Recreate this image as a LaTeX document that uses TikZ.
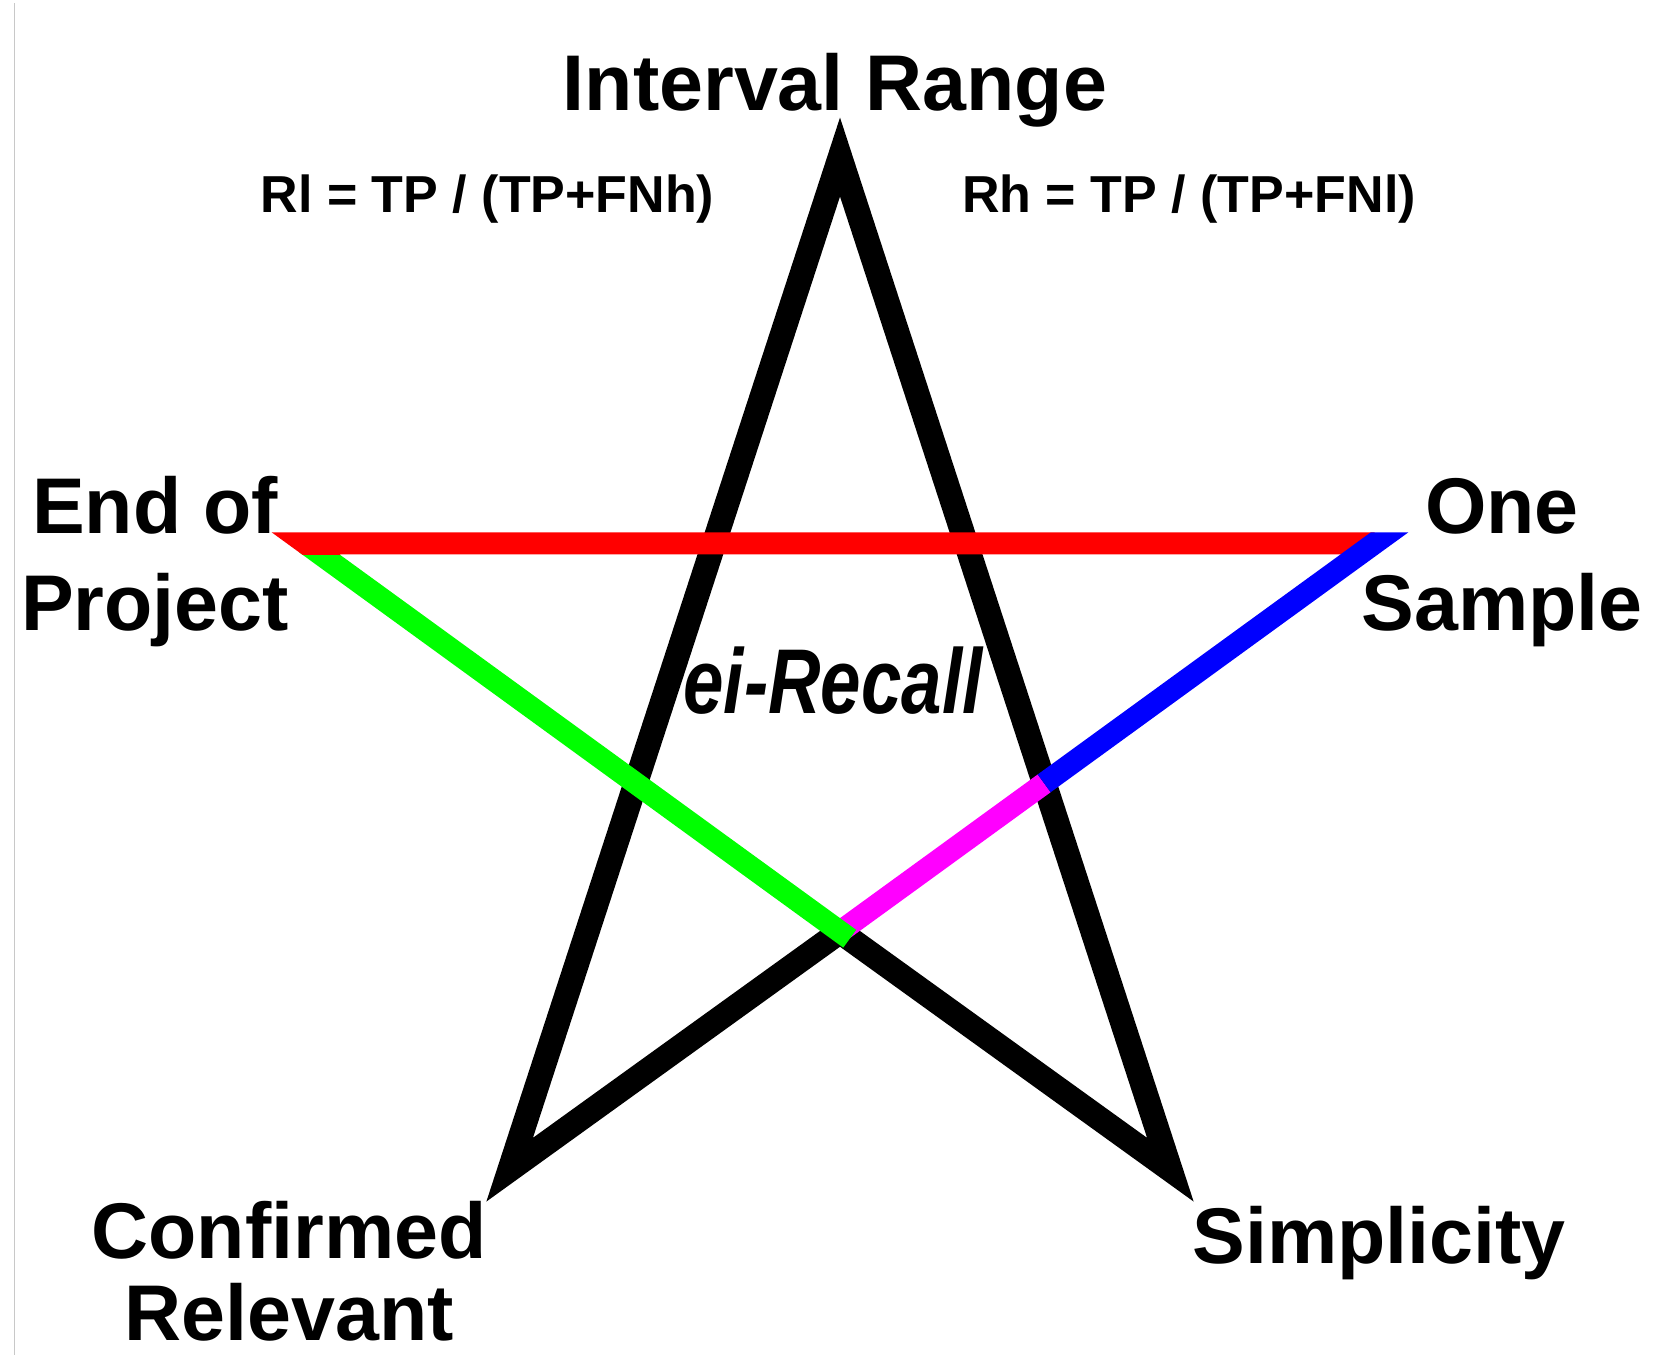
\documentclass[tikz,border=0pt]{standalone}
\usepackage{fontspec}
\setmainfont{Liberation Sans}
\usepackage{graphicx}
\usetikzlibrary{calc}
\definecolor{starred}{RGB}{255,0,0}
\definecolor{stargreen}{RGB}{0,255,0}
\definecolor{starblue}{RGB}{0,0,255}
\definecolor{starmag}{RGB}{255,0,255}
\definecolor{framegray}{RGB}{200,200,200}
\begin{document}
\begin{tikzpicture}[x=1pt,y=1pt,
  starline/.style={line width=22pt, line cap=butt, line join=miter},
  blackline/.style={line width=24.5pt, line cap=butt, line join=miter},
  bigtext/.style={font=\fontsize{79}{79}\selectfont\bfseries, inner sep=0pt, anchor=base},
  formula/.style={font=\fontsize{52}{52}\selectfont\bfseries, inner sep=0pt, anchor=base}]
\useasboundingbox (0,0) rectangle (1654,-1355);
\fill[white] (0,0) rectangle (1654,-1355);
\draw[framegray, line width=1.5pt] (14.5,-3) -- (14.5,-1355);
% pentagram vertices (regular, centre (840,-717), r = 562)
\coordinate (T)  at (840,-157);
\coordinate (L)  at (305.51,-543.33);
\coordinate (R)  at (1374.49,-543.33);
\coordinate (BL) at (509.66,-1169.67);
\coordinate (BR) at (1170.34,-1169.67);
\coordinate (X)  at (840,-931.67);
\coordinate (Xm) at (1044.16,-783.34);
% black star
\draw[blackline, black] (X) -- (BL) -- (T) -- (BR) -- (X);
% magenta part
\draw[starline, starmag] (X) -- (Xm);
% green part
\draw[starline, stargreen, shorten >=-12pt] (L) -- (X);
% red line, its tip at L mitred
\begin{scope}
  \clip (0,-554.33) rectangle (1654,0);
  \draw[starline, starred] (X) -- (L) -- (R);
\end{scope}
% blue part, its tip at R mitred
\begin{scope}
  \clip (875.9,-892.0) -- (1529.8,-416.8) -- (1654,-416.8) -- (1654,-1355) -- (875.9,-1355) -- cycle;
  \draw[starline, starblue] (Xm) -- (R) -- (L);
\end{scope}
% texts
\node[bigtext] (title) at (835,-110) {Interval Range};
\node[formula] (rl) at (487.5,-212) {Rl = TP / (TP+FNh)};
\node[formula] (rh) at (1189,-212) {Rh = TP / (TP+FNl)};
\node[bigtext] (end1) at (155,-533) {End of};
\node[bigtext] (end2) at (155,-630) {Project};
\node[bigtext] (one1) at (1502,-533) {One};
\node[bigtext] (one2) at (1502,-630) {Sample};
\node[bigtext] (conf1) at (289,-1258) {Confirmed};
\node[bigtext] (conf2) at (289,-1340) {Relevant};
\node[bigtext] (simp) at (1379,-1263) {Simplicity};
\node[font=\fontsize{92}{92}\selectfont\bfseries\itshape, inner sep=0pt, anchor=base] (ei) at (833,-713) {\scalebox{0.79}[1]{ei-Recall}};
\end{tikzpicture}
\end{document}
